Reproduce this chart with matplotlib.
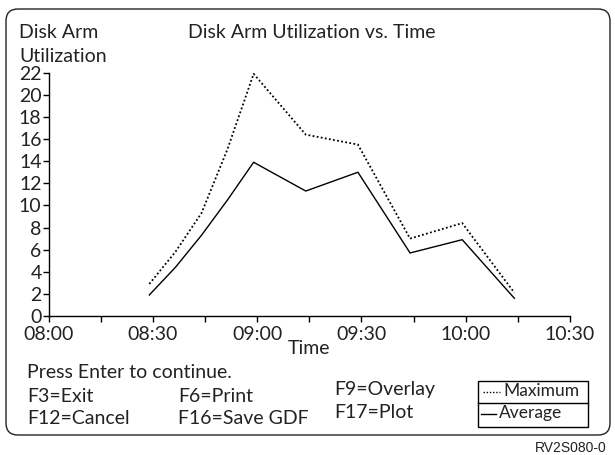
import matplotlib
matplotlib.use("Agg")
import matplotlib.pyplot as plt
from matplotlib.patches import FancyBboxPatch, Rectangle
from matplotlib.lines import Line2D
from matplotlib.transforms import IdentityTransform

plt.rcParams['font.family'] = ['Lato', 'DejaVu Sans']

times = ["08:29:00", "08:36:30", "08:44:00", "08:51:30", "08:59:00",
         "09:14:00", "09:29:00", "09:44:00", "09:59:00", "10:14:00"]
maximum = [2.9, 5.8, 9.3, 15.1, 21.9, 16.4, 15.5, 7.0, 8.4, 2.1]
average = [1.9, 4.4, 7.3, 10.5, 13.9, 11.3, 13.0, 5.7, 6.9, 1.6]
tick_labels = ["08:00", "08:30", "09:00", "09:30", "10:00", "10:30"]
fkeys = [("F3=Exit", 27, 396), ("F12=Cancel", 27, 419),
         ("F6=Print", 178, 396), ("F16=Save GDF", 178, 419),
         ("F9=Overlay", 334, 390), ("F17=Plot", 334, 413)]


def minutes(t):
    h, m, s = [int(v) for v in t.split(":")]
    return (h - 8) * 60 + m + s / 60.0


W, H = 615, 455
FS = 14
fig = plt.figure(figsize=(W / 100, H / 100), dpi=100)


def fx(x):
    return x / W


def fy(y):
    return 1 - y / H


# rounded screen frame
frame = FancyBboxPatch((6, H - 435), 604, 426,
                       boxstyle="round,pad=0,rounding_size=12",
                       transform=IdentityTransform(), fill=False,
                       ec="#222222", lw=1.0)
fig.add_artist(frame)

left, right, bottom, top = 48.5, 570, 316, 72.7
ax = fig.add_axes([fx(left), fy(bottom), (right - left) / W, (bottom - top) / H])

x = [minutes(t) for t in times]
ax.plot(x, maximum, color="black", lw=1.3, linestyle=(0, (1, 1.3)))
ax.plot(x, average, color="black", lw=1.0)

ax.set_xlim(0, 150)
ax.set_ylim(0, 22)
ax.set_xticks(range(0, 151, 30))
ax.set_xticklabels(tick_labels)
ax.set_xticks(range(15, 151, 30), minor=True)
ax.set_yticks(range(0, 23, 2))
ax.tick_params(axis="both", which="both", direction="out", length=4,
               width=1, labelsize=FS, colors="black", labelcolor="#222222")
ax.tick_params(axis="y", pad=1)
ax.tick_params(axis="x", pad=3)
for s in ["top", "right"]:
    ax.spines[s].set_visible(False)
for s in ["left", "bottom"]:
    ax.spines[s].set_linewidth(1.0)
ax.patch.set_alpha(0)

fig.text(fx(312), fy(33), "Disk Arm Utilization vs. Time", fontsize=FS,
         ha="center", va="center", color="#222222")
fig.text(fx(19), fy(33), "Disk Arm", fontsize=FS, ha="left", va="center", color="#222222")
fig.text(fx(19), fy(56), "Utilization", fontsize=FS, ha="left", va="center", color="#222222")
fig.text(fx(309), fy(348), "Time", fontsize=FS, ha="center", va="center", color="#222222")

fig.text(fx(27), fy(372), "Press Enter to continue.", fontsize=FS,
         ha="left", va="center", color="#222222")
for label, px, py in fkeys:
    fig.text(fx(px), fy(py), label, fontsize=FS, ha="left", va="center", color="#222222")

# legend box
lx0, lx1, ly0, ly1, ymid = 478.3, 588.3, 380.7, 426.7, 403.3
fig.add_artist(Rectangle((lx0, H - ly1), lx1 - lx0, ly1 - ly0,
                         transform=IdentityTransform(), fill=False, ec="black", lw=1.0))
fig.add_artist(Line2D([lx0, lx1], [H - ymid, H - ymid],
                      transform=IdentityTransform(), color="black", lw=1.0))
fig.add_artist(Line2D([483, 500], [H - 392, H - 392], transform=IdentityTransform(),
                      color="black", lw=1.0, linestyle=(0, (1, 1.3))))
fig.add_artist(Line2D([481, 496], [H - 414, H - 414], transform=IdentityTransform(),
                      color="black", lw=1.0))
fig.text(fx(503), fy(391), "Maximum", fontsize=12.5, ha="left", va="center", color="#222222")
fig.text(fx(499), fy(413), "Average", fontsize=12.5, ha="left", va="center", color="#222222")

fig.text(fx(607), fy(448), "RV2S080-0", fontsize=10, ha="right", va="center",
         color="#222222", family="Liberation Sans")

fig.savefig("out.png", dpi=100)
